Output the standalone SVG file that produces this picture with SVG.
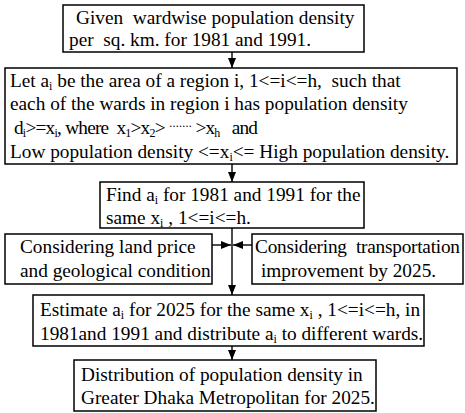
<svg xmlns="http://www.w3.org/2000/svg" width="465" height="413" viewBox="0 0 465 413">
<style>
.box{fill:#fff;stroke:#000;stroke-width:1.5}
.t{font-family:"Liberation Serif","Times New Roman",serif;font-size:19.3px;fill:#000}
.s{font-size:12px}
.c{stroke:#000;stroke-width:1.4;fill:none}
</style>
<defs>
<marker id="ah" viewBox="0 0 10 10" refX="10" refY="5" markerWidth="10" markerHeight="10" markerUnits="userSpaceOnUse" orient="auto">
<path d="M0,1 L10,5 L0,9 Z" fill="#000"/>
</marker>
</defs>
<rect width="465" height="413" fill="#fff"/>
<g id="connectors">
<line class="c" x1="232" y1="52" x2="232" y2="68" marker-end="url(#ah)"/>
<line class="c" x1="232" y1="164" x2="232" y2="182" marker-end="url(#ah)"/>
<line class="c" x1="232" y1="228" x2="232" y2="295" marker-end="url(#ah)"/>
<line class="c" x1="212" y1="245" x2="231" y2="245" marker-end="url(#ah)"/>
<line class="c" x1="252" y1="245" x2="233" y2="245" marker-end="url(#ah)"/>
<line class="c" x1="232" y1="346" x2="232" y2="360" marker-end="url(#ah)"/>
</g>
<g id="n1">
<rect class="box" x="63" y="5" width="301" height="47"/>
<text class="t" x="76" y="24">Given &#160;wardwise population density</text>
<text class="t" x="69" y="46">per &#160;sq. km. for 1981 and 1991.</text>
</g>
<g id="n2">
<rect class="box" x="5" y="68" width="452" height="96"/>
<text class="t" x="10" y="87">Let a<tspan class="s" dy="3">i</tspan><tspan dy="-3"> be the area of a region i, 1&lt;=i&lt;=h, &#160;such that</tspan></text>
<text class="t" x="10" y="110">each of the wards in region i has population density</text>
<text class="t" x="14" y="134" textLength="244" lengthAdjust="spacing">d<tspan class="s" dy="3">i</tspan><tspan dy="-3">&gt;=x</tspan><tspan class="s" dy="3">i</tspan><tspan dy="-3">, where &#160;x</tspan><tspan class="s" dy="3">1</tspan><tspan dy="-3">&gt;x</tspan><tspan class="s" dy="3">2</tspan><tspan dy="-3">&gt; </tspan><tspan class="s" dy="-4">·······</tspan><tspan dy="4"> &gt;x</tspan><tspan class="s" dy="3">h</tspan><tspan dy="-3"> &#160; and</tspan></text>
<text class="t" x="10" y="158">Low population density &lt;=x<tspan class="s" dy="3">i</tspan><tspan dy="-3">&lt;= High population density.</tspan></text>
</g>
<g id="n3">
<rect class="box" x="100" y="182" width="264" height="46"/>
<text class="t" x="106" y="201">Find a<tspan class="s" dy="3">i</tspan><tspan dy="-3"> for 1981 and 1991 for the</tspan></text>
<text class="t" x="106" y="224">same x<tspan class="s" dy="3">i</tspan><tspan dy="-3"> , 1&lt;=i&lt;=h.</tspan></text>
</g>
<g id="n4">
<rect class="box" x="5" y="234" width="207" height="50"/>
<text class="t" x="20" y="253">Considering land price</text>
<text class="t" x="20" y="277">and geological condition</text>
</g>
<g id="n5">
<rect class="box" x="252" y="234" width="211" height="50"/>
<text class="t" x="255" y="253" textLength="205" lengthAdjust="spacing">Considering &#160;transportation</text>
<text class="t" x="261" y="277">improvement by 2025.</text>
</g>
<g id="n6">
<rect class="box" x="33" y="295" width="391" height="51"/>
<text class="t" x="40" y="316">Estimate a<tspan class="s" dy="3">i</tspan><tspan dy="-3"> for 2025 for the same x</tspan><tspan class="s" dy="3">i</tspan><tspan dy="-3"> , 1&lt;=i&lt;=h, in</tspan></text>
<text class="t" x="40" y="340">1981and 1991 and distribute a<tspan class="s" dy="3">i</tspan><tspan dy="-3"> to different wards.</tspan></text>
</g>
<g id="n7">
<rect class="box" x="74" y="360" width="302" height="51"/>
<text class="t" x="81" y="381">Distribution of population density in</text>
<text class="t" x="81" y="404">Greater Dhaka Metropolitan for 2025.</text>
</g>
</svg>
